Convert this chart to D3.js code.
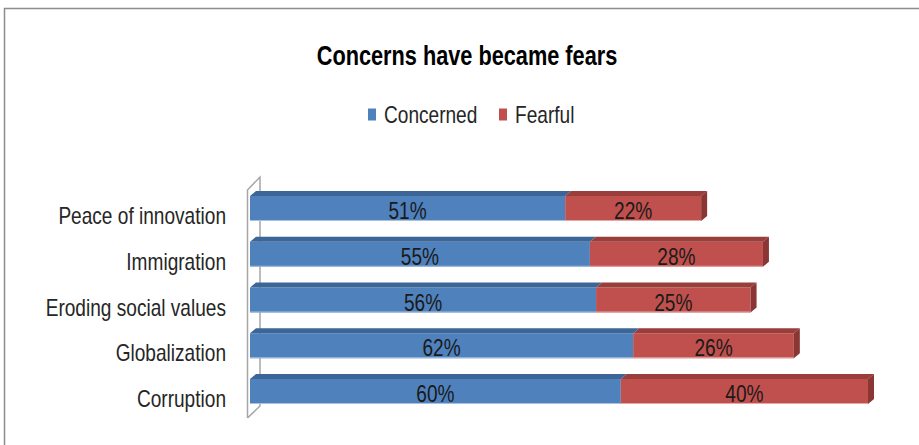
<!DOCTYPE html>
<html>
<head>
<meta charset="utf-8">
<script src="https://cdn.jsdelivr.net/npm/d3@7"></script>
<style>
  body { margin: 0; background: #fff; }
  svg text { font-family: "Liberation Sans", Arial, sans-serif; }
</style>
</head>
<body>
<div class="graph"></div>
<script>
var categories = ["Peace of innovation", "Immigration", "Eroding social values", "Globalization", "Corruption"];
var concerned = [51, 55, 56, 62, 60];
var fearful = [22, 28, 25, 26, 40];
var seriesNames = ["Concerned", "Fearful"];

const WIDTH = 919;
const HEIGHT = 445;
const DX = 6, DY = 5; // bar depth
const SX = 0.83; // narrow the font like the original

var colors = {
	front: ["#4f81bd", "#c0504d"],
	top: ["#3d6698", "#9a3e3b"],
	side: ["#36598a", "#8a3634"],
	edge: ["#a9c0e0", "#e3a9a7"]
};

var place = function(x, y, sx){
	return "translate(" + x + "," + y + ") scale(" + (sx || SX) + ",1)";
};

var svg = d3.select(".graph").append("svg")
	.attr("width", WIDTH)
	.attr("height", HEIGHT);

// outer chart border
svg.append("path")
	.attr("d", "M4.5," + HEIGHT + "V8.5H" + WIDTH)
	.attr("fill", "none")
	.attr("stroke", "#8c8c8c")
	.attr("stroke-width", 1.5);

svg.append("text")
	.attr("transform", place(467, 65, 0.79))
	.attr("text-anchor", "middle")
	.attr("font-weight", "bold")
	.attr("font-size", 27.5)
	.attr("fill", "#000")
	.text("Concerns have became fears");

// legend
var legendX = [368, 499];
seriesNames.forEach(function(name, i){
	svg.append("rect")
		.attr("x", legendX[i]).attr("y", 108.5)
		.attr("width", 8).attr("height", 12)
		.attr("fill", colors.front[i]);
	svg.append("text")
		.attr("transform", place(legendX[i] + 16, 122.5))
		.attr("font-size", 23)
		.attr("fill", "#262626")
		.text(name);
});

var xScale = d3.scaleLinear().domain([0, 100]).range([250, 868]);
var yScale = d3.scaleBand().domain(categories).range([196, 404]).paddingInner(0.4536);

// 3D wall lines
var wall = svg.append("g").attr("fill", "none").attr("stroke", "#a6a6a6").attr("stroke-width", 1.5);
wall.append("path").attr("d", "M247.5,418V190L260,177V406L247.5,418");

var rows = categories.map(function(c, i){
	return {cat: c, vals: [concerned[i], fearful[i]]};
});

var bars = svg.append("g").selectAll("g").data(rows).enter().append("g");

bars.each(function(d){
	var g = d3.select(this);
	var y0 = yScale(d.cat), h = yScale.bandwidth();
	var start = 0;
	d.vals.forEach(function(v, i){
		var x0 = xScale(start), x1 = xScale(start + v);
		g.append("rect")
			.attr("x", x0).attr("y", y0)
			.attr("width", x1 - x0).attr("height", h)
			.attr("fill", colors.front[i]);
		g.append("line")
			.attr("x1", x0).attr("x2", x1)
			.attr("y1", y0 + h - 0.5).attr("y2", y0 + h - 0.5)
			.attr("stroke", colors.edge[i]).attr("stroke-width", 1);
		g.append("path")
			.attr("d", "M" + x0 + "," + y0 + "L" + (x0 + DX) + "," + (y0 - DY) +
				"H" + (x1 + DX) + "L" + x1 + "," + y0 + "Z")
			.attr("fill", colors.top[i]);
		if (i === d.vals.length - 1) {
			g.append("path")
				.attr("d", "M" + x1 + "," + y0 + "L" + (x1 + DX) + "," + (y0 - DY) +
					"V" + (y0 + h - DY) + "L" + x1 + "," + (y0 + h) + "Z")
				.attr("fill", colors.side[i]);
		}
		g.append("text")
			.attr("transform", place((x0 + x1) / 2, y0 + h / 2 + 10.5))
			.attr("text-anchor", "middle")
			.attr("font-size", 23)
			.attr("fill", "#1a1a1a")
			.text(v + "%");
		start += v;
	});
});

// category labels
svg.append("g").selectAll("text").data(categories).enter().append("text")
	.attr("transform", function(d){ return place(226, yScale(d) + yScale.bandwidth() / 2 + 15.5); })
	.attr("text-anchor", "end")
	.attr("font-size", 23)
	.attr("fill", "#262626")
	.text(function(d){ return d; });
</script>
</body>
</html>
